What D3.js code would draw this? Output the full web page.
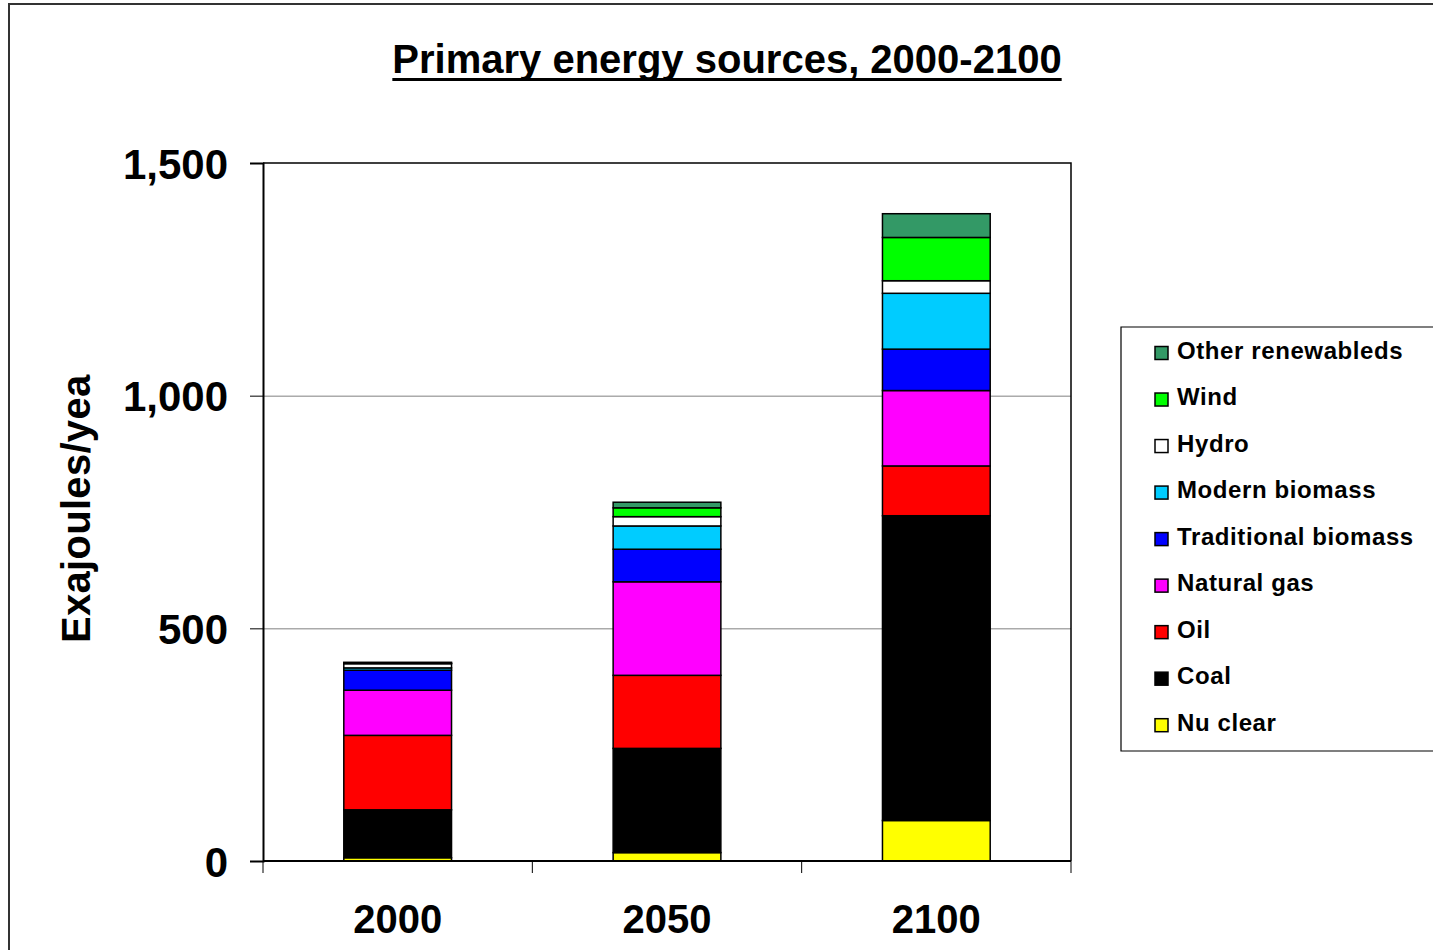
<!DOCTYPE html>
<html>
<head>
<meta charset="utf-8">
<script src="https://cdn.jsdelivr.net/npm/d3@7"></script>
<style>
  html, body { margin: 0; padding: 0; background: #fff; }
  svg { display: block; font-family: "Liberation Sans", Arial, sans-serif; }
</style>
</head>
<body>
<svg id="chart" width="1433" height="950"></svg>
<script>
// Scenario years on the x axis
const years = ["2000", "2050", "2100"];

// Energy sources, bottom of the stack first
const sources = ["Nu clear", "Coal", "Oil", "Natural gas", "Traditional biomass",
                 "Modern biomass", "Hydro", "Wind", "Other renewableds"];
const sourceColors = ["#FFFF00", "#000000", "#FF0000", "#FF00FF", "#0000FF",
                      "#00CCFF", "#FFFFFF", "#00FF00", "#339966"];

// Exajoules per year, one array per source (2000, 2050, 2100)
const nuclear        = [7, 18, 87];
const coal           = [103, 224, 655];
const oil            = [160, 157, 107];
const naturalGas     = [97, 201, 162];
const tradBiomass    = [43, 70, 89];
const modernBiomass  = [5, 50, 120];
const hydro          = [9, 20, 27];
const wind           = [1, 19, 93];
const otherRenew     = [2, 12, 51];

const yTicks = [0, 500, 1000, 1500];

const seriesValues = [nuclear, coal, oil, naturalGas, tradBiomass,
                      modernBiomass, hydro, wind, otherRenew];

// Rows for d3.stack
const rows = years.map((yr, i) => {
  const r = { year: yr };
  sources.forEach((s, k) => { r[s] = seriesValues[k][i]; });
  return r;
});

const svg = d3.select("#chart");

// Outer chart frame
svg.append("path")
  .attr("d", "M9,950 L9,4 L1433,4")
  .attr("fill", "none").attr("stroke", "#333").attr("stroke-width", 2);

// Title
const title = svg.append("text")
  .attr("x", 727).attr("y", 73)
  .attr("text-anchor", "middle")
  .attr("font-size", 40).attr("font-weight", "bold")
  .text("Primary energy sources, 2000-2100");
const tb = title.node().getBBox();
svg.append("rect")
  .attr("x", tb.x).attr("y", 78).attr("width", tb.width).attr("height", 3)
  .attr("fill", "#000");

// Plot area
const plot = { left: 263, right: 1071, top: 163, bottom: 861 };

const x = d3.scaleBand().domain(years).range([plot.left, plot.right]).padding(0);
const y = d3.scaleLinear().domain([0, 1500]).range([plot.bottom, plot.top]);

// Gridlines
svg.append("g")
  .attr("transform", `translate(${plot.left},0)`)
  .call(d3.axisLeft(y).tickValues([500, 1000]).tickSize(-(plot.right - plot.left)).tickFormat(""))
  .call(g => g.select(".domain").remove())
  .call(g => g.selectAll("line").attr("stroke", "#808080").attr("stroke-width", 1));

// Plot frame (top and right)
svg.append("path")
  .attr("d", `M${plot.left},${plot.top} L${plot.right},${plot.top} L${plot.right},${plot.bottom}`)
  .attr("fill", "none").attr("stroke", "#000").attr("stroke-width", 1.5);

// Stacked bars
const stack = d3.stack().keys(sources);
const layers = stack(rows);
const barW = x.bandwidth() * 0.4;

svg.append("g").selectAll("g")
  .data(layers)
  .join("g")
  .attr("fill", (d, i) => sourceColors[i])
  .selectAll("rect")
  .data(d => d)
  .join("rect")
  .attr("x", d => x(d.data.year) + (x.bandwidth() - barW) / 2)
  .attr("width", barW)
  .attr("y", d => y(d[1]))
  .attr("height", d => y(d[0]) - y(d[1]))
  .attr("stroke", "#000").attr("stroke-width", 1.5);

// Y axis
svg.append("g")
  .attr("transform", `translate(${plot.left},0)`)
  .call(d3.axisLeft(y).tickValues(yTicks).tickSize(13).tickPadding(22).tickFormat(d3.format(",")))
  .call(g => g.select(".domain").attr("stroke", "#000").attr("stroke-width", 2))
  .call(g => g.selectAll(".tick line").attr("stroke", "#000").attr("stroke-width", 1))
  .call(g => g.selectAll("text")
    .attr("font-family", "Liberation Sans, Arial, sans-serif")
    .attr("font-size", 42).attr("font-weight", "bold").attr("fill", "#000")
    .attr("dy", "0.36em"));

// X axis baseline with ticks at category boundaries
svg.append("line")
  .attr("x1", plot.left).attr("x2", plot.right)
  .attr("y1", plot.bottom).attr("y2", plot.bottom)
  .attr("stroke", "#000").attr("stroke-width", 2);

const bounds = years.map(d => x(d)).concat([x(years[years.length - 1]) + x.bandwidth()]);
svg.append("g").selectAll("line")
  .data(bounds)
  .join("line")
  .attr("x1", d => d).attr("x2", d => d)
  .attr("y1", plot.bottom).attr("y2", plot.bottom + 12)
  .attr("stroke", "#000").attr("stroke-width", 1);

svg.append("g")
  .attr("transform", `translate(0,${plot.bottom})`)
  .call(d3.axisBottom(x).tickSize(0).tickPadding(0))
  .call(g => g.select(".domain").remove())
  .call(g => g.selectAll("text")
    .attr("font-family", "Liberation Sans, Arial, sans-serif")
    .attr("font-size", 40).attr("font-weight", "bold").attr("fill", "#000")
    .attr("dy", 0).attr("y", 72));

// Y axis title, clipped at the top edge of its box
svg.append("clipPath").attr("id", "ytitle-clip")
  .append("rect").attr("x", 40).attr("y", 373).attr("width", 80).attr("height", 320);
svg.append("g")
  .attr("clip-path", "url(#ytitle-clip)")
  .append("text")
  .attr("transform", "translate(90,643) rotate(-90)")
  .attr("font-size", 40).attr("font-weight", "bold")
  .attr("letter-spacing", 0.3)
  .text("Exajoules/year");

// Legend
const legend = svg.append("g");
legend.append("path")
  .attr("d", "M1440,327 L1121,327 L1121,751 L1440,751")
  .attr("fill", "#fff").attr("stroke", "#000").attr("stroke-width", 1.2);

const legendOrder = sources.map((s, i) => ({ name: s, color: sourceColors[i] })).reverse();
const ly = d3.scalePoint().domain(legendOrder.map(d => d.name)).range([358.5, 730.7]);

const items = legend.selectAll("g.item")
  .data(legendOrder)
  .join("g").attr("class", "item")
  .attr("transform", d => `translate(0,${ly(d.name)})`);
items.append("rect")
  .attr("x", 1155).attr("y", -12).attr("width", 13).attr("height", 13)
  .attr("fill", d => d.color).attr("stroke", "#000").attr("stroke-width", 1.5);
items.append("text")
  .attr("x", 1177).attr("y", 0)
  .attr("font-size", 24).attr("font-weight", "bold")
  .attr("letter-spacing", 0.6)
  .text(d => d.name);
</script>
</body>
</html>
